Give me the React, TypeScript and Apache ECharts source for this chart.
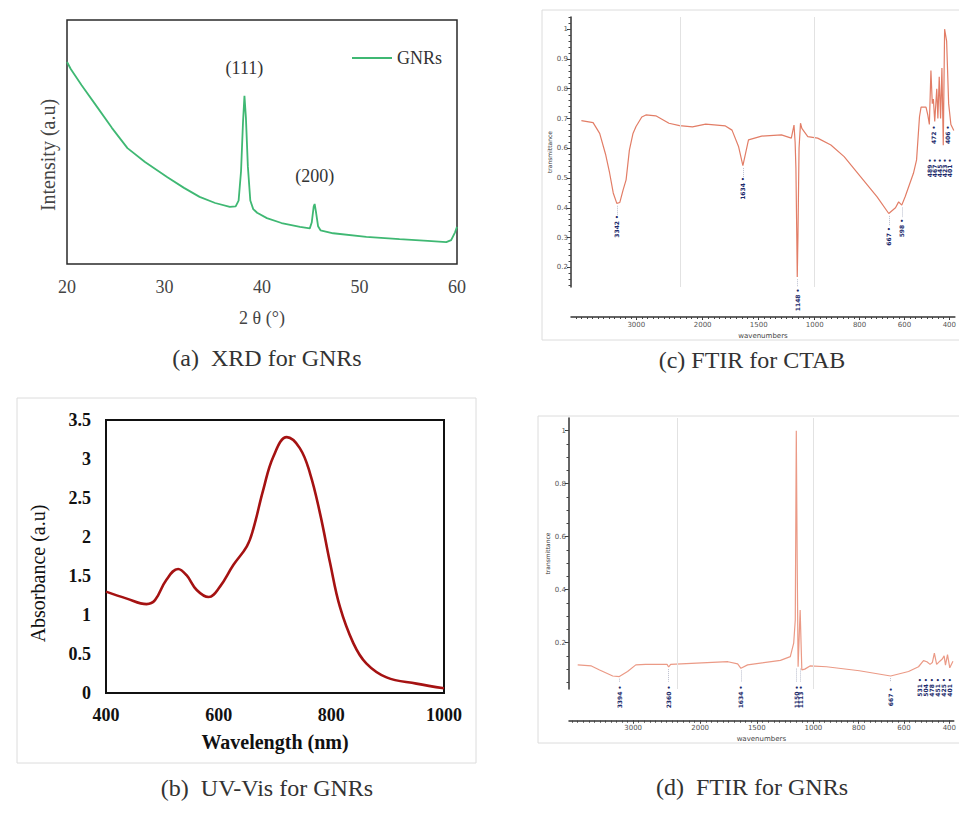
import React, { useEffect, useRef } from 'react';
import * as echarts from 'echarts';

// ---------- (a) XRD ----------
const xrdTheta = [20, 20.4, 21.5, 23.1, 24.6, 26.2, 28, 30.3, 32, 33.6, 35.2, 36.7, 37.3, 37.6, 37.85, 38.05, 38.2, 38.35, 38.55, 38.8, 39.1, 39.5, 40.5, 42, 43.9, 44.9, 45.1, 45.3, 45.4, 45.55, 45.75, 46, 47.3, 50.7, 54.1, 57, 58.9, 59.4, 59.8, 60];
const xrdIntensity = [82.8, 79.8, 73.3, 64.3, 55.8, 47.5, 41.8, 35.6, 31.2, 27.5, 25.0, 23.4, 23.6, 26, 38, 58, 68.9, 60, 40, 26, 22.5, 21, 18.8, 16.8, 15.2, 14.6, 17, 23.5, 24.6, 21, 15.5, 13.8, 12.6, 11.1, 10.2, 9.5, 9.0, 9.8, 13, 15.2];
const xrdPeaks = [
  { theta: 38.2, label: '(111)' },
  { theta: 45.4, label: '(200)' },
];

// ---------- (b) UV-Vis ----------
const uvWavelength = [400, 437, 472, 487, 507, 528, 543, 561, 582, 602, 626, 650, 661, 679, 697, 721, 744, 762, 780, 798, 815, 839, 862, 898, 951, 1000];
const uvAbsorbance = [1.30, 1.21, 1.14, 1.19, 1.45, 1.59, 1.51, 1.32, 1.23, 1.36, 1.64, 1.88, 2.09, 2.60, 3.03, 3.28, 3.14, 2.82, 2.30, 1.66, 1.11, 0.64, 0.38, 0.20, 0.12, 0.06];

// ---------- (c) FTIR CTAB ----------
const ctabWavenumber = [4000, 3787, 3667, 3560, 3486, 3420, 3355, 3300, 3240, 3186, 3126, 3060, 3005, 2900, 2825, 2645, 2405, 2213, 2091, 1973, 1797, 1738, 1679, 1641, 1591, 1474, 1297, 1209, 1185, 1175, 1168, 1160, 1156, 1150, 1140, 1127, 1115, 1062, 987, 928, 869, 796, 722, 670, 640, 626, 612, 597, 560, 546, 533, 526, 504, 496, 489, 482, 476, 471, 465, 456, 451, 445, 439, 433, 427, 421, 412, 403, 393, 380];
const ctabTransmittance = [0.693, 0.686, 0.65, 0.58, 0.517, 0.45, 0.415, 0.418, 0.46, 0.494, 0.594, 0.65, 0.673, 0.705, 0.712, 0.709, 0.684, 0.676, 0.672, 0.681, 0.675, 0.661, 0.605, 0.542, 0.628, 0.641, 0.645, 0.634, 0.678, 0.62, 0.533, 0.3, 0.168, 0.3, 0.6, 0.684, 0.667, 0.639, 0.634, 0.611, 0.572, 0.505, 0.437, 0.381, 0.40, 0.42, 0.409, 0.437, 0.516, 0.561, 0.706, 0.738, 0.738, 0.712, 0.68, 0.861, 0.75, 0.765, 0.69, 0.80, 0.70, 0.84, 0.70, 0.87, 0.61, 1.0, 0.96, 0.75, 0.68, 0.66];
const ctabPeaks = [3355, 1641, 1156, 670, 612];
const ctabPeakLabels = ['3342', '1634', '1148', '667', '598'];
const ctabUpperCluster = [472, 406];
const ctabUpperLabels = ['472', '406'];
const ctabLowerCluster = [489, 467, 445, 423, 401];
const ctabLowerLabels = ['489', '467', '445', '423', '401'];

// ---------- (d) FTIR GNRs ----------
const gnrWavenumber = [4000, 3753, 3605, 3368, 3249, 3101, 2952, 2775, 2389, 2360, 2324, 1755, 1669, 1640, 1581, 1291, 1204, 1174, 1160, 1151, 1143, 1135, 1117, 1109, 1102, 1076, 1030, 942, 797, 659, 580, 536, 514, 499, 485, 475, 466, 456, 442, 431, 423, 417, 408, 398, 384];
const gnrTransmittance = [0.116, 0.112, 0.097, 0.074, 0.072, 0.091, 0.116, 0.118, 0.118, 0.108, 0.118, 0.128, 0.12, 0.103, 0.116, 0.133, 0.147, 0.198, 0.286, 1.0, 0.5, 0.109, 0.323, 0.2, 0.097, 0.1, 0.112, 0.109, 0.094, 0.074, 0.091, 0.109, 0.132, 0.128, 0.118, 0.125, 0.16, 0.118, 0.13, 0.138, 0.15, 0.115, 0.155, 0.105, 0.13];
const gnrPeaks = [3249, 2360, 1640, 1151, 1117, 659];
const gnrPeakLabels = ['3394', '2360', '1634', '1150', '1113', '667'];
const gnrCluster = [531, 504, 478, 451, 425, 401];
const gnrClusterLabels = ['531', '504', '478', '451', '425', '401'];

const ftirMajorTicks = [3000, 2000, 1500, 1000, 800, 600, 400];
const ctabYLabels = [0.2, 0.3, 0.4, 0.5, 0.6, 0.7, 0.8, 0.9, 1];
const gnrYLabels = [0.2, 0.4, 0.6, 0.8, 1];

// piecewise FTIR wavenumber scale (expanded below 2200 and 1000 cm-1)
const S1 = 0.0555, S2 = 0.1133, S3 = 0.2267;
const B1 = (3000 - 2200) * S1;
const B2 = B1 + (2200 - 1000) * S2;
function toD(w: number) {
  if (w >= 2200) return (3000 - w) * S1;
  if (w >= 1000) return B1 + (2200 - w) * S2;
  return B2 + (1000 - w) * S3;
}
function fromD(d: number) {
  if (d <= B1 + 1e-9) return 3000 - d / S1;
  if (d <= B2 + 1e-9) return 2200 - (d - B1) / S2;
  return 1000 - (d - B2) / S3;
}
function range(a: number, b: number, step: number) {
  const out: number[] = [];
  for (let v = a; step > 0 ? v <= b + 1e-9 : v >= b - 1e-9; v += step) out.push(Math.round(v * 1000) / 1000);
  return out;
}
const ftirMinorTicks = [...range(4100, 2200, -100), ...range(2150, 1000, -50), ...range(975, 375, -25)];

const SERIF = 'Liberation Serif';
const SANS = 'DejaVu Sans';
const NAVY = '#1b2a6b';

function valueAt(ws: number[], ts: number[], w: number) {
  const i = ws.indexOf(w);
  return i >= 0 ? ts[i] : 0;
}

function ftirXAxes(grid: number, min: number, max: number, offset: number) {
  return [
    {
      gridIndex: grid, type: 'value', position: 'bottom', min, max, offset,
      axisLine: { show: true, onZero: false, lineStyle: { color: '#333', width: 1.5 } },
      axisTick: { show: true, length: 3, customValues: ftirMajorTicks.map(toD), lineStyle: { color: '#333' } },
      axisLabel: { show: true, customValues: ftirMajorTicks.map(toD), formatter: (v: number) => String(Math.round(fromD(v))), fontSize: 7, color: '#555', fontFamily: SANS, margin: 4 },
      splitLine: { show: false },
      name: 'wavenumbers', nameLocation: 'middle', nameGap: 15,
      nameTextStyle: { fontSize: 7, color: '#444', fontFamily: SANS },
    },
    {
      gridIndex: grid, type: 'value', position: 'bottom', min, max, offset,
      axisLine: { show: false, onZero: false },
      axisTick: { show: true, length: 2, customValues: ftirMinorTicks.map(toD), lineStyle: { color: '#444' } },
      axisLabel: { show: false },
      splitLine: { show: false },
    },
  ];
}

function ftirYAxes(grid: number, min: number, max: number, labels: number[], minor: number[], nameGap: number) {
  return [
    {
      gridIndex: grid, type: 'value', position: 'left', min, max,
      axisLine: { show: true, onZero: false, lineStyle: { color: '#333', width: 1.5 } },
      axisTick: { show: true, length: 4, customValues: labels, lineStyle: { color: '#333' } },
      axisLabel: { show: true, customValues: labels, formatter: (v: number) => String(Math.round(v * 10) / 10), fontSize: 7, color: '#555', fontFamily: SANS, margin: 3 },
      splitLine: { show: false },
      name: 'transmittance', nameLocation: 'middle', nameGap,
      nameTextStyle: { fontSize: 6, color: '#333', fontFamily: SANS },
    },
    {
      gridIndex: grid, type: 'value', position: 'left', min, max,
      axisLine: { show: false, onZero: false },
      axisTick: { show: true, length: 2.5, customValues: minor, lineStyle: { color: '#444' } },
      axisLabel: { show: false },
      splitLine: { show: false },
    },
  ];
}

type Curve = (w: number) => number;

function buildOption() {
  const ctabCurve: Curve = (w) => valueAt(ctabWavenumber, ctabTransmittance, w);
  const gnrCurve: Curve = (w) => valueAt(gnrWavenumber, gnrTransmittance, w);
  const CTAB_MIN = 0.134, CTAB_MAX = 1.041, GNR_MIN = 0.025, GNR_MAX = 1.048;

  const peakLabelStyle = {
    show: true, position: 'inside', rotate: 90, formatter: '{b} \u2022',
    fontSize: 6, fontWeight: 'bold', color: NAVY, fontFamily: SANS,
  };
  // label is rotated 90°, so its local x axis points up the screen: a negative x offset moves it down
  const mkPoint = (name: string, x: number, y: number, down: number) => ({
    name, coord: [x, y], label: { ...peakLabelStyle, offset: [-down, 0] },
  });

  // CTAB: labels hang below each band minimum
  const ctabPoints = [
    ...ctabPeaks.map((w, i) => mkPoint(ctabPeakLabels[i], toD(w), ctabCurve(w), 23)),
    ...ctabUpperCluster.map((w, i) => mkPoint(ctabUpperLabels[i], toD(w), 0.645, 0)),
    ...ctabLowerCluster.map((w, i) => mkPoint(ctabLowerLabels[i], toD(w), 0.534, 0)),
  ];
  const ctabLeaders = ctabPeaks.map((w) => [
    { coord: [toD(w), ctabCurve(w) - 0.008] },
    { coord: [toD(w), Math.max(CTAB_MIN + 0.002, ctabCurve(w) - 0.042)] },
  ]);

  // GNRs: labels sit below the spectrum near the bottom of the y axis
  const gnrPoints = [
    ...gnrPeaks.map((w, i) => mkPoint(gnrPeakLabels[i], toD(w), GNR_MIN, 8)),
    ...gnrCluster.map((w, i) => mkPoint(gnrClusterLabels[i], toD(w), 0.031, 0)),
  ];
  const gnrLeaders = gnrPeaks.map((w) => [
    { coord: [toD(w), Math.min(gnrCurve(w), 0.11) - 0.008] },
    { coord: [toD(w), 0.052] },
  ]);

  const grayLines = [
    { xAxis: toD(2200), lineStyle: { color: '#e2e2e2', type: 'solid', width: 1 } },
    { xAxis: toD(1000), lineStyle: { color: '#e2e2e2', type: 'solid', width: 1 } },
  ];

  const caption = (text: string, x: number, y: number) => ({
    type: 'text', silent: true, x, y,
    style: { text, fontSize: 24, fontFamily: SERIF, fill: '#333', textAlign: 'center', textVerticalAlign: 'middle', align: 'center', verticalAlign: 'middle' },
  });

  return {
    animation: false,
    backgroundColor: '#ffffff',
    textStyle: { fontFamily: SERIF },
    legend: {
      data: ['GNRs'], left: 347, top: 44, icon: 'rect', itemWidth: 40, itemHeight: 2, itemGap: 6,
      textStyle: { fontSize: 18, color: '#333', fontFamily: SERIF },
    },
    grid: [
      { left: 67, top: 20, width: 390, height: 244, show: true, borderColor: '#2a2a2a', borderWidth: 1.5 },
      { left: 106, top: 420, width: 338, height: 273, show: true, borderColor: '#111', borderWidth: 2 },
      { left: 571, top: 17, width: 388, height: 270 },
      { left: 569, top: 418, width: 390, height: 271 },
    ],
    xAxis: [
      {
        gridIndex: 0, type: 'value', min: 20, max: 60, interval: 10,
        axisLine: { show: false }, axisTick: { show: false }, splitLine: { show: false },
        axisLabel: { fontSize: 18, color: '#444', fontFamily: SERIF, margin: 14 },
        name: '2 θ (°)', nameLocation: 'middle', nameGap: 45,
        nameTextStyle: { fontSize: 18, color: '#444', fontFamily: SERIF },
      },
      {
        gridIndex: 1, type: 'value', min: 400, max: 1000, interval: 200,
        axisLine: { show: false }, axisTick: { show: false }, splitLine: { show: false },
        axisLabel: { fontSize: 18, color: '#111', fontWeight: 'bold', fontFamily: SERIF, margin: 13, formatter: (v: number) => String(v) },
        name: 'Wavelength (nm)', nameLocation: 'middle', nameGap: 39,
        nameTextStyle: { fontSize: 20, color: '#111', fontWeight: 'bold', fontFamily: SERIF },
      },
      ...ftirXAxes(2, -66, 322, 30),
      ...ftirXAxes(3, -64.2, 320.8, 31.7),
    ],
    yAxis: [
      {
        gridIndex: 0, type: 'value', min: 0, max: 100,
        axisLine: { show: false }, axisTick: { show: false }, axisLabel: { show: false }, splitLine: { show: false },
        name: 'Intensity (a.u)', nameLocation: 'middle', nameGap: 9,
        nameTextStyle: { fontSize: 20, color: '#444', fontFamily: SERIF, padding: [0, 26, 0, 0] },
      },
      {
        gridIndex: 1, type: 'value', min: 0, max: 3.5, interval: 0.5,
        axisLine: { show: false }, axisTick: { show: false }, splitLine: { show: false },
        axisLabel: { fontSize: 18, color: '#111', fontWeight: 'bold', fontFamily: SERIF, margin: 15 },
        name: 'Absorbance (a.u)', nameLocation: 'middle', nameGap: 58,
        nameTextStyle: { fontSize: 20, color: '#111', fontFamily: SERIF, padding: [0, 34, 0, 0] },
      },
      ...ftirYAxes(2, CTAB_MIN, CTAB_MAX, ctabYLabels, range(0.14, 1.04, 0.02), 17),
      ...ftirYAxes(3, GNR_MIN, GNR_MAX, gnrYLabels, range(0.05, 1.0, 0.05), 19),
    ],
    series: [
      {
        name: 'GNRs', type: 'line', xAxisIndex: 0, yAxisIndex: 0,
        data: xrdTheta.map((t, i) => [t, xrdIntensity[i]]),
        showSymbol: false, smooth: false,
        lineStyle: { color: '#3fb873', width: 1.8 }, itemStyle: { color: '#3fb873' },
        markPoint: {
          symbol: 'circle', symbolSize: 1, itemStyle: { color: 'transparent' }, silent: true,
          label: { show: true, position: 'top', distance: 18, fontSize: 18, color: '#333', fontFamily: SERIF, formatter: '{b}' },
          data: xrdPeaks.map((p) => ({ name: p.label, coord: [p.theta, valueAt(xrdTheta, xrdIntensity, p.theta)] })),
        },
      },
      {
        name: 'UV-Vis', type: 'line', xAxisIndex: 1, yAxisIndex: 1,
        data: uvWavelength.map((w, i) => [w, uvAbsorbance[i]]),
        showSymbol: false, smooth: 0.4,
        lineStyle: { color: '#a51212', width: 2.6 }, itemStyle: { color: '#a51212' },
      },
      {
        name: 'CTAB', type: 'line', xAxisIndex: 2, yAxisIndex: 2,
        data: ctabWavenumber.map((w, i) => [toD(w), ctabTransmittance[i]]),
        showSymbol: false, smooth: false,
        lineStyle: { color: '#e27d66', width: 1.2 }, itemStyle: { color: '#e27d66' },
        markLine: {
          silent: true, symbol: ['none', 'none'], label: { show: false },
          lineStyle: { color: '#b8bccc', type: 'dotted', width: 1 },
          data: [...grayLines, ...ctabLeaders],
        },
        markPoint: {
          symbol: 'rect', symbolSize: 1, itemStyle: { color: 'transparent' }, silent: true,
          label: peakLabelStyle,
          data: ctabPoints,
        },
      },
      {
        name: 'GNR-FTIR', type: 'line', xAxisIndex: 4, yAxisIndex: 4,
        data: gnrWavenumber.map((w, i) => [toD(w), gnrTransmittance[i]]),
        showSymbol: false, smooth: false,
        lineStyle: { color: '#eb9a86', width: 1.2 }, itemStyle: { color: '#eb9a86' },
        markLine: {
          silent: true, symbol: ['none', 'none'], label: { show: false },
          lineStyle: { color: '#b8bccc', type: 'dotted', width: 1 },
          data: [...grayLines, ...gnrLeaders],
        },
        markPoint: {
          symbol: 'rect', symbolSize: 1, itemStyle: { color: 'transparent' }, silent: true,
          label: peakLabelStyle,
          data: gnrPoints,
        },
      },
    ],
    graphic: [
      { type: 'rect', silent: true, shape: { x: 17, y: 398, width: 459, height: 365 }, style: { fill: 'none', stroke: '#dcdcdc', lineWidth: 1 } },
      { type: 'rect', silent: true, shape: { x: 542, y: 10, width: 440, height: 330 }, style: { fill: 'none', stroke: '#dcdcdc', lineWidth: 1 } },
      { type: 'rect', silent: true, shape: { x: 538, y: 416, width: 440, height: 327 }, style: { fill: 'none', stroke: '#dcdcdc', lineWidth: 1 } },
      caption('(a)  XRD for GNRs', 267, 358),
      caption('(b)  UV-Vis for GNRs', 267, 788),
      caption('(c) FTIR for CTAB', 752, 360),
      caption('(d)  FTIR for GNRs', 752, 787),
    ],
  };
}

export default function App() {
  const ref = useRef<HTMLDivElement>(null);
  useEffect(() => {
    if (!ref.current) return;
    const chart = echarts.init(ref.current, undefined, { renderer: 'svg' });
    chart.setOption(buildOption() as any);
    return () => chart.dispose();
  }, []);
  return <div ref={ref} style={{ position: 'absolute', left: 0, top: 0, width: 959, height: 823, background: '#fff' }} />;
}
